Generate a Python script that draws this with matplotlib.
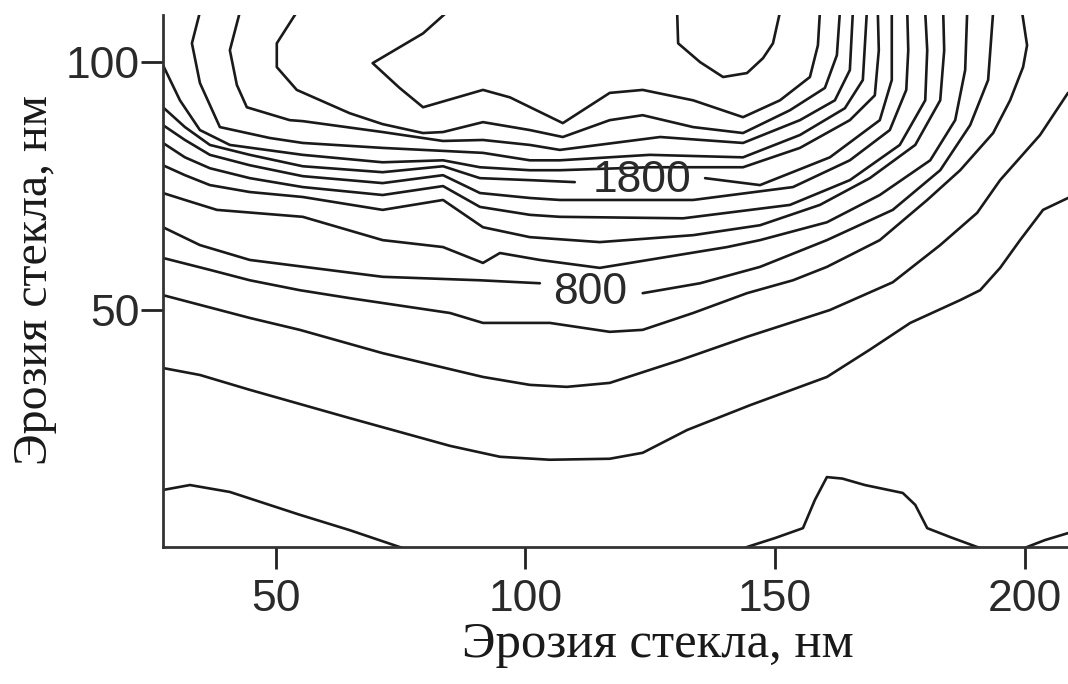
import matplotlib
matplotlib.use("Agg")
import matplotlib.pyplot as plt

# Contour lines of the erosion map, one (x, y) polyline per piece, in nm.
# Level 0
c0_left_x = [27.4, 32.8, 40.8, 54.8, 64.8, 74.8, 80.5]
c0_left_y = [13.7, 14.7, 13.3, 8.7, 5.6, 2.2, 0.3]
c0_mid_x = [143.0, 144.4, 150.0, 155.6, 158.0, 160.4, 163.5, 168.0, 175.6, 178.1, 180.5, 185.1, 190.5, 192.5]
c0_mid_y = [1.5, 2.2, 4.0, 6.0, 11.7, 16.3, 16.0, 14.7, 13.1, 10.7, 6.0, 4.2, 2.2, 1.5]
c0_right_x = [198.5, 200.5, 204.1, 208.7]
c0_right_y = [1.3, 2.2, 3.6, 5.0]

# Level 200
c200_x = [27.4, 34.8, 44.8, 64.8, 84.9, 94.9, 104.9, 116.9, 123.5, 132.4, 145.0, 160.4,
          169.0, 177.1, 187.1, 191.1, 195.1, 199.1, 203.7, 208.7]
c200_y = [38.3, 36.9, 33.9, 28.2, 22.6, 20.4, 19.8, 20.0, 21.2, 25.8, 30.8, 36.5,
          42.0, 47.4, 52.0, 54.0, 58.5, 64.1, 70.2, 72.6]

# Level 400
c400_x = [27.4, 44.8, 54.8, 71.4, 91.5, 100.9, 108.3, 116.9, 131.0, 144.4, 161.0, 173.6,
          183.1, 190.5, 195.1, 203.1, 208.7]
c400_y = [53.0, 48.4, 46.0, 41.3, 36.5, 34.9, 34.5, 35.3, 39.9, 44.6, 50.0, 55.6,
          63.1, 69.6, 76.2, 85.3, 93.8]

# Level 600
c600_x = [27.4, 36.8, 44.8, 54.8, 64.8, 84.9, 91.5, 104.9, 116.9, 123.5, 133.6, 144.4,
          153.6, 160.4, 171.0, 180.5, 187.1, 193.7, 197.1, 199.7, 200.5, 199.5]
c600_y = [60.5, 58.1, 56.0, 54.0, 52.4, 49.4, 47.4, 47.4, 45.6, 46.0, 49.4, 53.4,
          56.0, 58.7, 64.1, 72.2, 78.2, 85.7, 92.3, 99.0, 103.4, 110.1]

# Level 800 (broken where its label sits)
c800_a_x = [27.4, 34.8, 44.8, 71.4, 90.9, 102.9]
c800_a_y = [66.7, 63.1, 60.1, 56.7, 56.0, 55.4]
c800_b_x = [123.5, 135.0, 147.0, 160.4, 173.6, 183.1, 189.1, 192.7, 193.7]
c800_b_y = [53.4, 55.4, 58.7, 64.1, 70.2, 78.2, 87.3, 96.4, 110.1]

# Level 1000
c1000_x = [27.4, 31.8, 38.2, 55.4, 71.4, 83.5, 91.5, 94.9, 102.9, 114.9, 140.4, 147.0,
           160.4, 171.0, 181.1, 186.1, 188.1, 188.5]
c1000_y = [73.6, 72.2, 70.2, 68.8, 64.1, 62.7, 59.5, 61.5, 60.1, 58.5, 62.7, 64.1,
           67.7, 73.2, 80.2, 88.3, 98.4, 110.1]

# Level 1200
c1200_x = [27.4, 31.8, 36.8, 44.8, 55.4, 71.4, 83.5, 91.5, 100.9, 114.9, 133.6, 147.0,
           159.0, 169.0, 178.1, 183.1, 183.9, 183.7]
c1200_y = [79.2, 77.2, 75.2, 73.8, 72.8, 70.2, 72.2, 66.7, 64.7, 63.7, 65.1, 67.1,
           71.2, 76.6, 83.3, 92.3, 102.4, 110.1]

# Level 1400
c1400_x = [27.4, 31.8, 36.8, 44.8, 55.4, 71.4, 83.5, 90.9, 100.9, 106.9, 131.6, 153.0,
           165.0, 175.0, 180.1, 180.5, 180.1]
c1400_y = [83.7, 80.8, 78.6, 76.6, 74.8, 73.2, 75.0, 70.8, 69.2, 68.8, 68.5, 71.2,
           76.2, 83.3, 92.3, 102.4, 110.1]

# Level 1600
c1600_x = [27.4, 31.8, 36.8, 44.8, 55.4, 71.4, 83.5, 90.9, 100.9, 106.9, 133.6, 153.6,
           165.0, 173.0, 176.3, 176.7, 176.5]
c1600_y = [87.3, 84.3, 81.3, 79.2, 77.0, 75.6, 77.2, 73.6, 72.6, 72.2, 72.2, 74.8,
           80.2, 86.3, 94.4, 102.4, 110.1]

# Level 1800 (broken where its label sits)
c1800_a_x = [27.4, 31.8, 36.8, 44.8, 55.4, 71.4, 83.5, 90.9, 100.9, 109.9]
c1800_a_y = [90.9, 86.9, 83.3, 81.3, 79.0, 77.8, 79.0, 76.6, 76.2, 75.8]
c1800_b_x = [136.0, 147.0, 161.0, 171.0, 173.4, 173.4]
c1800_b_y = [76.6, 75.2, 80.8, 88.3, 96.4, 110.1]

# Level 2000
c2000_x = [27.4, 30.8, 34.8, 40.8, 55.4, 71.4, 83.5, 90.9, 100.9, 106.9, 124.9, 143.6,
           155.0, 165.0, 170.0, 170.8, 170.6]
c2000_y = [99.4, 92.3, 86.3, 83.3, 81.3, 79.8, 80.2, 78.8, 78.2, 78.2, 78.8, 78.8,
           82.7, 88.3, 93.3, 102.4, 110.1]

# Level 2200
c2200_x = [34.8, 33.2, 34.8, 38.8, 48.8, 55.4, 71.4, 83.5, 91.5, 100.9, 106.9, 124.9,
           143.6, 155.0, 164.0, 167.6, 168.4]
c2200_y = [110.1, 103.8, 95.8, 86.9, 84.7, 83.7, 82.7, 82.1, 81.7, 80.2, 80.2, 81.3,
           80.8, 85.3, 90.7, 96.4, 110.1]

# Level 2400
c2400_x = [42.8, 40.8, 42.2, 44.2, 52.8, 55.4, 71.4, 83.5, 91.5, 100.9, 106.9, 127.0,
           143.6, 155.0, 162.0, 165.0, 165.6]
c2400_y = [110.1, 102.4, 95.4, 90.9, 88.3, 88.1, 85.9, 84.1, 84.3, 83.3, 82.3, 84.9,
           83.7, 88.3, 92.3, 98.4, 110.1]

# Level 2600
c2600_x = [54.2, 50.2, 50.2, 54.2, 64.8, 71.4, 79.5, 83.5, 91.5, 100.9, 107.5, 116.9,
           123.5, 133.6, 143.6, 153.0, 160.0, 162.4, 163.0]
c2600_y = [110.1, 103.8, 99.0, 94.4, 89.7, 87.5, 85.7, 85.9, 87.9, 86.3, 84.9, 88.3,
           89.3, 86.9, 85.7, 90.3, 94.8, 101.4, 110.1]

# Level 2800
c2800_x = [84.3, 79.5, 69.4, 74.8, 79.5, 91.5, 96.9, 107.5, 116.9, 123.5, 133.6, 143.6,
           151.0, 157.0, 158.6, 159.0]
c2800_y = [110.1, 105.8, 99.8, 94.8, 90.9, 94.4, 92.9, 87.7, 93.8, 94.4, 92.3, 88.9,
           92.3, 97.0, 103.4, 110.1]

# Level 3000
c3000_x = [130.4, 130.6, 135.0, 139.6, 144.4, 147.6, 149.6, 151.0]
c3000_y = [110.1, 103.8, 100.0, 97.0, 97.8, 100.8, 103.8, 110.1]

# Inline contour labels: value and where it is written
label_values = [1800, 800]
label_x = [123.3, 112.9]
label_y = [76.2, 53.6]

x_ticks = [50, 100, 150, 200]
y_ticks = [50, 100]
axis_title = "Эрозия стекла, нм"

paths = [
    (c0_left_x, c0_left_y), (c0_mid_x, c0_mid_y), (c0_right_x, c0_right_y),
    (c200_x, c200_y), (c400_x, c400_y), (c600_x, c600_y),
    (c800_a_x, c800_a_y), (c800_b_x, c800_b_y),
    (c1000_x, c1000_y), (c1200_x, c1200_y), (c1400_x, c1400_y), (c1600_x, c1600_y),
    (c1800_a_x, c1800_a_y), (c1800_b_x, c1800_b_y),
    (c2000_x, c2000_y), (c2200_x, c2200_y), (c2400_x, c2400_y), (c2600_x, c2600_y),
    (c2800_x, c2800_y), (c3000_x, c3000_y),
]

fig = plt.figure(figsize=(10.68, 6.84), dpi=100)
ax = fig.add_axes([0.1526, 0.2003, 0.8474, 0.7777])
ax.set_xlim(27.4, 208.7)
ax.set_ylim(2.2, 109.5)

line_color = "#1a1a1a"
for xs, ys in paths:
    ax.plot(xs, ys, color=line_color, lw=1.9,
            solid_joinstyle="round", solid_capstyle="round")

for val, lx, ly in zip(label_values, label_x, label_y):
    ax.text(lx, ly, str(val), ha="center", va="center", fontsize=32,
            family="Liberation Sans", color="#2a2a2a")

for side in ("top", "right"):
    ax.spines[side].set_visible(False)
for side in ("left", "bottom"):
    ax.spines[side].set_linewidth(2.0)
    ax.spines[side].set_color("#333333")

ax.set_xticks(x_ticks)
ax.set_yticks(y_ticks)
ax.tick_params(axis="both", direction="out", length=16, width=2.0, color="#222222",
               labelsize=32, labelcolor="#2a2a2a")
ax.tick_params(axis="x", pad=7)
ax.tick_params(axis="y", pad=1)
for lab in ax.get_xticklabels() + ax.get_yticklabels():
    lab.set_family("Liberation Sans")

fig.text(0.616, 0.057, axis_title, ha="center", va="center", fontsize=36.5,
         family="Liberation Serif", color="#1a1a1a")
fig.text(0.033, 0.591, axis_title, ha="center", va="center", rotation=90, fontsize=34.5,
         family="Liberation Serif", color="#1a1a1a")

fig.savefig("out.png", dpi=100, facecolor="white")
